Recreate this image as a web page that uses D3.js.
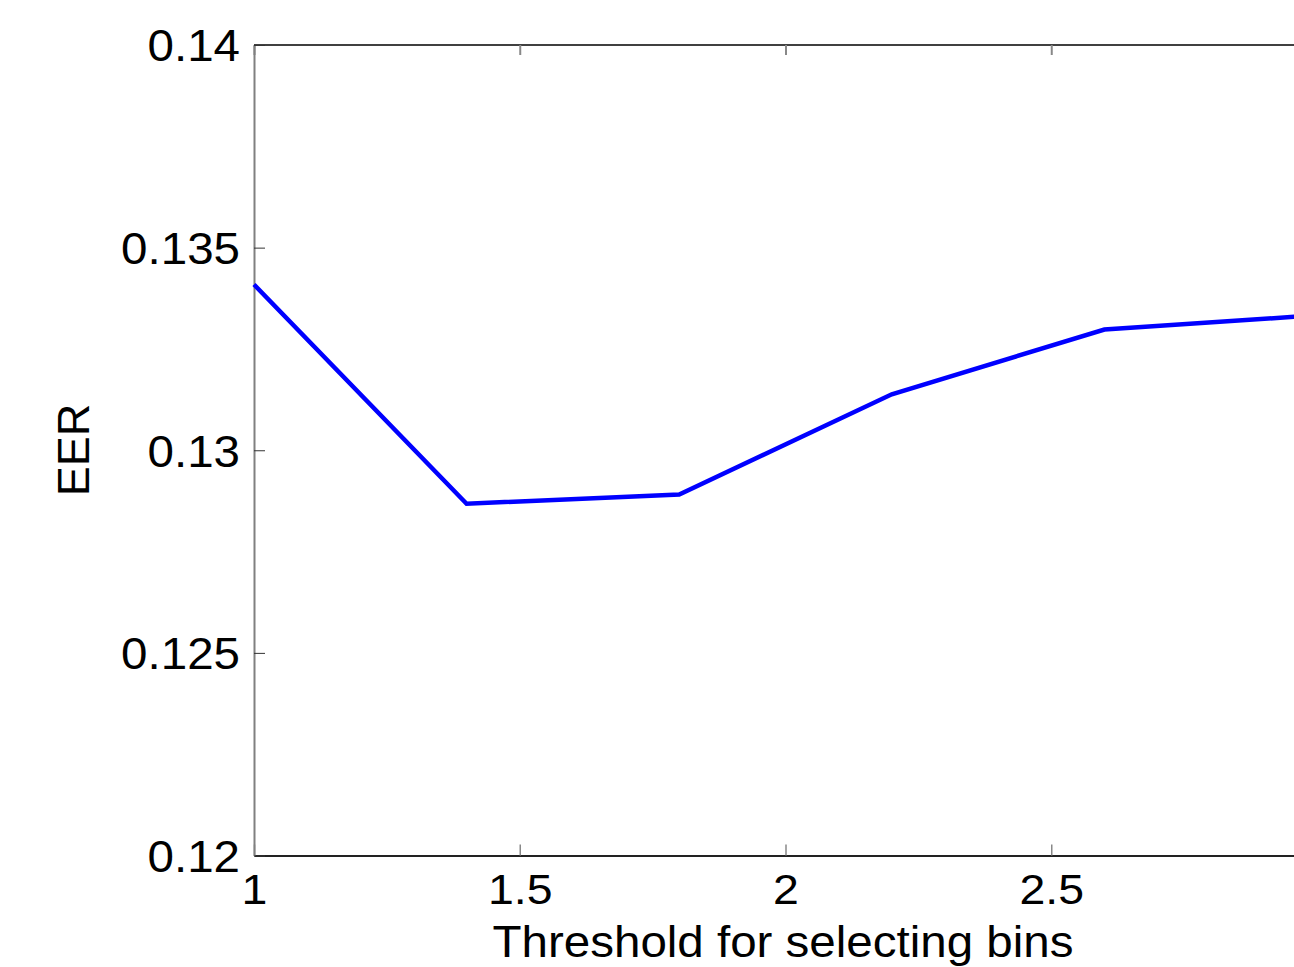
<!DOCTYPE html>
<html><head><meta charset="utf-8">
<script src="https://cdn.jsdelivr.net/npm/d3@7"></script>
<style>html,body{margin:0;padding:0;background:#fff;overflow:hidden}svg{display:block}</style>
</head><body>
<svg id="c" width="1294" height="967"></svg>
<script>
const thresholds = [1.0, 1.4, 1.8, 2.2, 2.6, 3.0];
const eer = [0.13409, 0.12868, 0.12891, 0.13138, 0.13298, 0.13333];
const xTicks = [1, 1.5, 2, 2.5];
const yTicks = [0.12, 0.125, 0.13, 0.135, 0.14];
const xTitle = "Threshold for selecting bins";
const yTitle = "EER";

const svg = d3.select("#c");
const L = 254, R = 1317, T = 45, B = 855.5;
const SX = 1.08;
const x = d3.scaleLinear().domain([1, 3]).range([L, R]);
const y = d3.scaleLinear().domain([0.12, 0.14]).range([B, T]);
const font = "Liberation Sans, Arial, sans-serif";

// frame
svg.append("line").attr("x1", L).attr("x2", R).attr("y1", T).attr("y2", T)
  .attr("stroke", "#000").attr("stroke-width", 1.5);
svg.append("line").attr("x1", R).attr("x2", R).attr("y1", T).attr("y2", B)
  .attr("stroke", "#000").attr("stroke-width", 1.5);

// x axis bottom
const xAxis = d3.axisBottom(x).tickValues(xTicks).tickSizeInner(-11).tickSizeOuter(0)
  .tickPadding(18).tickFormat(d3.format("~g"));
const gx = svg.append("g").attr("transform", `translate(0,${B})`).call(xAxis);
gx.select(".domain").attr("stroke", "#222").attr("stroke-width", 2.2);
gx.selectAll(".tick line").attr("stroke", "#888").attr("stroke-width", 1.5);
gx.selectAll("text").attr("font-family", font).attr("font-size", 43).attr("fill", "#000")
  .attr("transform", `scale(${SX},1)`);

// top ticks
const xTop = d3.axisTop(x).tickValues(xTicks).tickSizeInner(-10).tickSizeOuter(0).tickFormat("");
const gt = svg.append("g").attr("transform", `translate(0,${T})`).call(xTop);
gt.select(".domain").remove();
gt.selectAll(".tick line").attr("stroke", "#888").attr("stroke-width", 2);

// y axis
const yAxis = d3.axisLeft(y).tickValues(yTicks).tickSizeInner(-11).tickSizeOuter(0)
  .tickPadding(14).tickFormat(d3.format("~g"));
const gy = svg.append("g").attr("transform", `translate(${L},0)`).call(yAxis);
gy.select(".domain").attr("stroke", "#808080").attr("stroke-width", 2);
gy.selectAll(".tick line").attr("stroke", "#333").attr("stroke-width", 1);
gy.selectAll("text").attr("font-family", font).attr("font-size", 44).attr("fill", "#000")
  .attr("dy", "0.36em").attr("x", -14 / SX).attr("transform", `scale(${SX},1)`);

// line
const line = d3.line().x((d, i) => x(thresholds[i])).y(d => y(d));
svg.append("path").datum(eer).attr("d", line).attr("fill", "none")
  .attr("stroke", "#0000ff").attr("stroke-width", 4.5).attr("stroke-linejoin", "miter");

// titles
svg.append("text").attr("transform", `translate(783,956.5) scale(${SX},1)`).attr("text-anchor", "middle")
  .attr("font-family", font).attr("font-size", 44).attr("fill", "#000").text(xTitle);
svg.append("text").attr("transform", "translate(89,450) rotate(-90)").attr("text-anchor", "middle")
  .attr("font-family", font).attr("font-size", 45).attr("fill", "#000").text(yTitle);
</script>
</body></html>
